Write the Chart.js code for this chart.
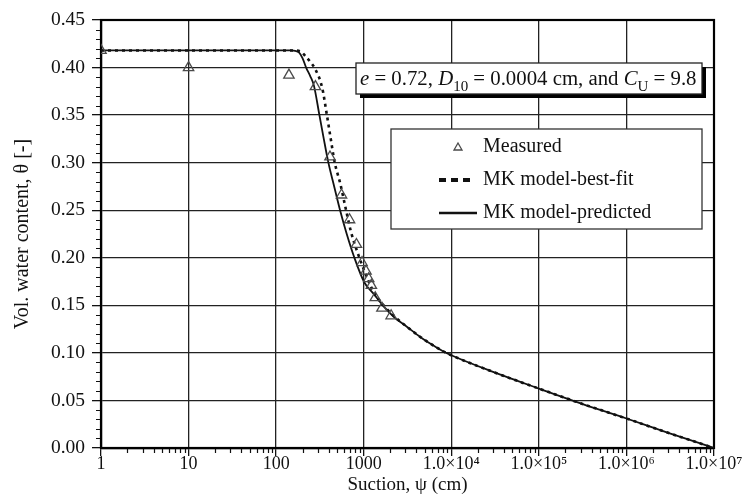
<!DOCTYPE html>
<html>
<head>
<meta charset="utf-8">
<script src="https://cdn.jsdelivr.net/npm/chart.js@4.4.1/dist/chart.umd.min.js"></script>
<style>
  html, body { margin: 0; padding: 0; background: #fff; }
  #wrap { width: 744px; height: 496px; }
</style>
</head>
<body>
<div id="wrap"><canvas id="swcc" width="744" height="496"></canvas></div>
<script>
// Measured soil-water characteristic points
const measuredSuction = [1, 10, 140, 281, 412, 558, 689, 826, 957, 1062, 1140, 1222, 1355, 1614, 2056];
const measuredTheta   = [0.418, 0.400, 0.392, 0.380, 0.306, 0.266, 0.240, 0.214, 0.195, 0.186, 0.178, 0.171, 0.158, 0.147, 0.139];

// MK model, best-fit parameters
const bestFitSuction = [1, 10, 100, 150, 190, 216, 250, 281, 335, 380, 417, 467, 540, 629, 717, 854, 1020, 1300, 1650, 2200, 3162, 4467, 6310, 7943, 10000, 30000, 100000, 300000, 1000000, 3000000, 10000000];
const bestFitTheta   = [0.418, 0.418, 0.418, 0.418, 0.417, 0.412, 0.405, 0.398, 0.379, 0.350, 0.327, 0.300, 0.278, 0.250, 0.227, 0.205, 0.186, 0.164, 0.151, 0.139, 0.127, 0.1165, 0.1075, 0.102, 0.0975, 0.080, 0.0625, 0.047, 0.031, 0.016, 0.000];

// MK model, predicted from grain-size parameters
const predictedSuction = [1, 10, 100, 150, 165, 182, 200, 220, 245, 270, 312, 350, 395, 460, 537, 640, 783, 1018, 1300, 1650, 2200, 3162, 4467, 6310, 7943, 10000, 30000, 100000, 300000, 1000000, 3000000, 10000000];
const predictedTheta   = [0.418, 0.418, 0.418, 0.418, 0.4175, 0.416, 0.410, 0.400, 0.391, 0.381, 0.350, 0.325, 0.300, 0.275, 0.250, 0.225, 0.200, 0.174, 0.162, 0.150, 0.138, 0.127, 0.1165, 0.1075, 0.102, 0.0975, 0.080, 0.0625, 0.047, 0.031, 0.016, 0.000];

// Axis ticks
const xTickValues = [1, 10, 100, 1000, 1e4, 1e5, 1e6, 1e7];
const xTickLabels = ['1', '10', '100', '1000', '1.0\u00d710\u2074', '1.0\u00d710\u2075', '1.0\u00d710\u2076', '1.0\u00d710\u2077'];
const yTickMin = 0, yTickMax = 0.45, yTickStep = 0.05, yMinorStep = 0.01;

const SERIF = '"Liberation Serif", "Times New Roman", serif';

const toPoints = (xs, ys) => xs.map((x, i) => ({ x: x, y: ys[i] }));

// Minor tick marks on both axes plus the closed plot frame
const frameAndMinorTicks = {
  id: 'frameAndMinorTicks',
  beforeDatasetsDraw(chart) {
    const { ctx, chartArea: a, scales: { x, y } } = chart;
    ctx.save();
    ctx.strokeStyle = '#111';
    ctx.lineWidth = 1.2;
    ctx.beginPath();
    // x: 2..9 within each decade
    for (let d = 0; d < 7; d++) {
      for (let k = 2; k <= 9; k++) {
        const px = Math.round(x.getPixelForValue(k * Math.pow(10, d))) + 0.5;
        ctx.moveTo(px, a.bottom);
        ctx.lineTo(px, a.bottom + 5);
      }
    }
    // y: every 0.01 between labelled ticks
    const n = Math.round((yTickMax - yTickMin) / yMinorStep);
    for (let i = 0; i <= n; i++) {
      if (i % 5 === 0) continue;
      const py = Math.round(y.getPixelForValue(yTickMin + i * yMinorStep)) + 0.5;
      ctx.moveTo(a.left - 5, py);
      ctx.lineTo(a.left, py);
    }
    ctx.stroke();
    ctx.lineWidth = 2.2;
    ctx.strokeStyle = '#000';
    ctx.strokeRect(a.left, a.top, a.right - a.left, a.bottom - a.top);
    ctx.restore();
  }
};

// Parameter note with drop shadow
function drawRuns(ctx, runs, x, baseline, size) {
  let cx = x;
  for (const r of runs) {
    const fs = r.sub ? size * 0.72 : size;
    ctx.font = (r.italic ? 'italic ' : '') + fs + 'px ' + SERIF;
    ctx.fillText(r.t, cx, baseline + (r.sub ? size * 0.28 : 0));
    cx += ctx.measureText(r.t).width;
  }
  return cx;
}

const noteBox = {
  id: 'noteBox',
  afterDatasetsDraw(chart) {
    const { ctx } = chart;
    const bx = 356, by = 63, bw = 346, bh = 31;
    ctx.save();
    ctx.fillStyle = '#000';
    ctx.fillRect(bx + 4, by + 4, bw, bh);
    ctx.fillStyle = '#fff';
    ctx.fillRect(bx, by, bw, bh);
    ctx.strokeStyle = '#222';
    ctx.lineWidth = 1.3;
    ctx.strokeRect(bx, by, bw, bh);
    ctx.fillStyle = '#111';
    ctx.textBaseline = 'alphabetic';
    ctx.textAlign = 'left';
    drawRuns(ctx, [
      { t: 'e', italic: true }, { t: ' = 0.72, ' },
      { t: 'D', italic: true }, { t: '10', sub: true }, { t: ' = 0.0004 cm, and ' },
      { t: 'C', italic: true }, { t: 'U', sub: true }, { t: ' = 9.8' }
    ], bx + 4, by + 22, 20.8);
    ctx.restore();
  }
};

// Legend box drawn from the dataset styles
const legendBox = {
  id: 'legendBox',
  afterDatasetsDraw(chart) {
    const { ctx } = chart;
    const bx = 391, by = 129, bw = 311, bh = 100;
    ctx.save();
    ctx.fillStyle = '#fff';
    ctx.fillRect(bx, by, bw, bh);
    ctx.strokeStyle = '#333';
    ctx.lineWidth = 1.3;
    ctx.strokeRect(bx, by, bw, bh);
    const rows = [147, 180, 213];
    const textX = 483;
    chart.data.datasets.forEach((ds, i) => {
      const cy = rows[i];
      ctx.save();
      if (ds.showLine === false) {
        ctx.strokeStyle = ds.borderColor;
        ctx.lineWidth = ds.borderWidth;
        const s = 4;
        ctx.beginPath();
        ctx.moveTo(458, cy - s);
        ctx.lineTo(458 + s, cy + s * 0.75);
        ctx.lineTo(458 - s, cy + s * 0.75);
        ctx.closePath();
        ctx.stroke();
      } else {
        const dashed = ds.borderDash && ds.borderDash.length;
        ctx.strokeStyle = ds.borderColor;
        ctx.lineWidth = ds.borderWidth + (dashed ? 1.2 : 0.6);
        ctx.setLineDash(dashed ? [7, 5] : []);
        ctx.beginPath();
        ctx.moveTo(439, cy);
        ctx.lineTo(dashed ? 470 : 477, cy);
        ctx.stroke();
      }
      ctx.restore();
      ctx.fillStyle = '#111';
      ctx.font = '20px ' + SERIF;
      ctx.textBaseline = 'middle';
      ctx.textAlign = 'left';
      ctx.fillText(ds.label, textX, cy);
    });
    ctx.restore();
  }
};

new Chart(document.getElementById('swcc'), {
  type: 'scatter',
  data: {
    datasets: [
      {
        label: 'Measured',
        data: toPoints(measuredSuction, measuredTheta),
        showLine: false,
        pointStyle: 'triangle',
        pointRadius: 6,
        borderColor: '#4a4a4a',
        backgroundColor: 'rgba(255,255,255,0)',
        borderWidth: 1.3,
        order: 0
      },
      {
        label: 'MK model-best-fit',
        data: toPoints(bestFitSuction, bestFitTheta),
        showLine: true,
        borderColor: '#111',
        borderWidth: 2.6,
        borderDash: [3, 4],
        pointRadius: 0,
        cubicInterpolationMode: 'monotone',
        order: 2
      },
      {
        label: 'MK model-predicted',
        data: toPoints(predictedSuction, predictedTheta),
        showLine: true,
        borderColor: '#111',
        borderWidth: 1.8,
        pointRadius: 0,
        cubicInterpolationMode: 'monotone',
        order: 1
      }
    ]
  },
  options: {
    responsive: false,
    animation: false,
    layout: { padding: { top: 20, right: 30, left: 0, bottom: 0 } },
    plugins: {
      legend: { display: false },
      tooltip: { enabled: false }
    },
    scales: {
      x: {
        type: 'logarithmic',
        min: 1,
        max: 1e7,
        afterBuildTicks: (s) => { s.ticks = xTickValues.map(v => ({ value: v, major: true })); },
        afterFit: (s) => { s.height = 48; },
        ticks: {
          autoSkip: false,
          maxRotation: 0,
          padding: -3,
          color: '#111',
          font: { family: SERIF, size: 18 },
          callback: (v) => { const i = xTickValues.indexOf(v); return i >= 0 ? xTickLabels[i] : ''; }
        },
        grid: { color: '#222', lineWidth: 1.3, tickLength: 8, tickColor: '#111', drawOnChartArea: true },
        border: { display: true, color: '#000', width: 2.2 },
        title: {
          display: true,
          text: 'Suction, \u03c8 (cm)',
          color: '#111',
          font: { family: SERIF, size: 19 },
          padding: { top: 0, bottom: 0 }
        }
      },
      y: {
        min: yTickMin,
        max: yTickMax,
        afterFit: (s) => { s.width = 101; },
        ticks: {
          stepSize: yTickStep,
          padding: 7,
          color: '#111',
          font: { family: SERIF, size: 19.5 },
          callback: (v) => v.toFixed(2)
        },
        grid: { color: '#222', lineWidth: 1.3, tickLength: 9, tickColor: '#111' },
        border: { display: true, color: '#000', width: 2.2 },
        title: {
          display: true,
          text: 'Vol. water content, \u03b8 [-]',
          color: '#111',
          font: { family: SERIF, size: 20 },
          padding: { top: 11, bottom: 0 }
        }
      }
    }
  },
  plugins: [frameAndMinorTicks, noteBox, legendBox]
});
</script>
</body>
</html>
